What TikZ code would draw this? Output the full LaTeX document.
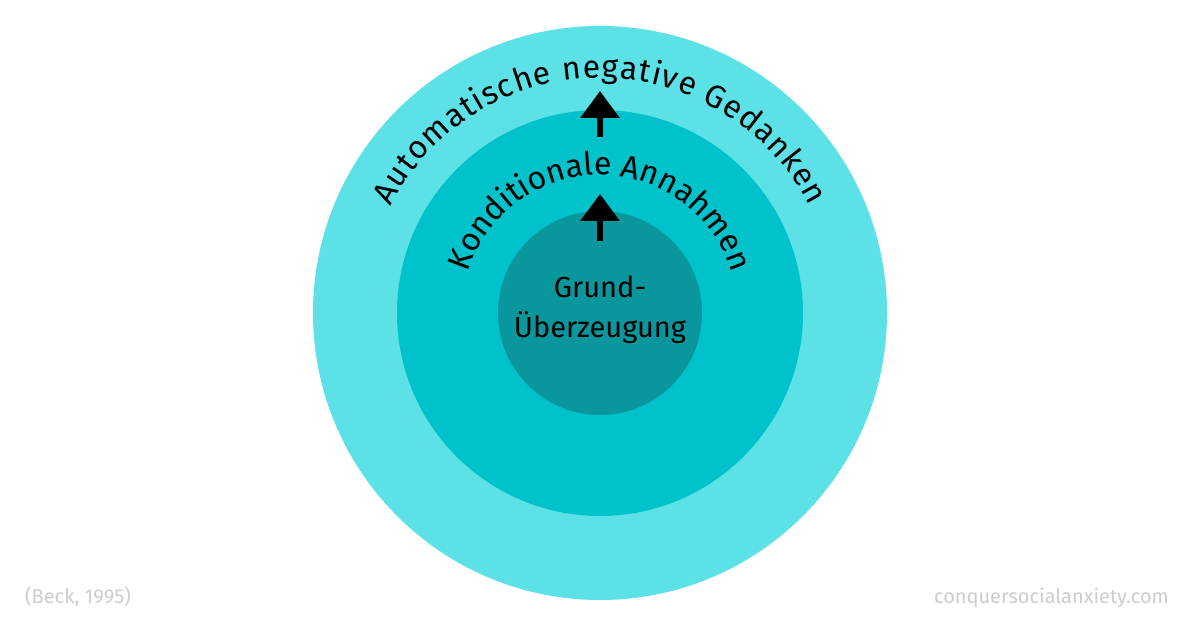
\documentclass[tikz,border=0pt]{standalone}
\usepackage{fontspec}
\setmainfont{Fira Sans}
\usetikzlibrary{decorations.text,arrows.meta}
\definecolor{ringout}{RGB}{92,225,230}
\definecolor{ringmid}{RGB}{0,194,203}
\definecolor{ringcore}{RGB}{9,150,156}
\definecolor{footgray}{RGB}{205,205,205}
\newcommand{\arcfont}{\fontsize{32}{38}\selectfont}
\begin{document}
\begin{tikzpicture}[x=1pt,y=1pt]
        \tikzstyle{ring}=[circle, inner sep=0pt, draw=none]
        \tikzstyle{uparrow}=[line width=6pt, -{Triangle[width=38pt,length=27pt]}]
        \tikzstyle{foot}=[font=\fontsize{20}{24}\selectfont, text=footgray, inner sep=0pt]
        \useasboundingbox (0,0) rectangle (1200,628);
        \fill[white] (0,0) rectangle (1200,628);
        \coordinate (c) at (600,315);
        \node[ring, fill=ringout, minimum size=574pt] (outer) at (c) {};
        \node[ring, fill=ringmid, minimum size=406pt] (mid) at (c) {};
        \node[ring, fill=ringcore, minimum size=204pt] (core) at (c) {};
        % texts on the rings
        \path[decorate, decoration={text along path, text align=fit to path,
            text={|\arcfont|Automatische negative Gedanken}}]
          (c) ++(153:235) arc[start angle=153, end angle=27, radius=235];
        \path[decorate, decoration={text along path, text align=fit to path,
            text={|\arcfont|Konditionale Annahmen}}]
          (c) ++(163:138) arc[start angle=163, end angle=17, radius=138];
        \node[align=center, font=\fontsize{29}{40}\selectfont] (belief) at (600,318) {Grund-\\Überzeugung};
        % arrows
        \coordinate (a1) at (600,387);
        \coordinate (b1) at (600,434);
        \coordinate (a2) at (600,491);
        \coordinate (b2) at (600,537);
        \draw[uparrow] (a1) -- (b1);
        \draw[uparrow] (a2) -- (b2);
        % footer
        \node[foot, anchor=base west] (src) at (25,24) {(Beck, 1995)};
        \node[foot, anchor=base east] (web) at (1169,24) {conquersocialanxiety.com};
\end{tikzpicture}
\end{document}
